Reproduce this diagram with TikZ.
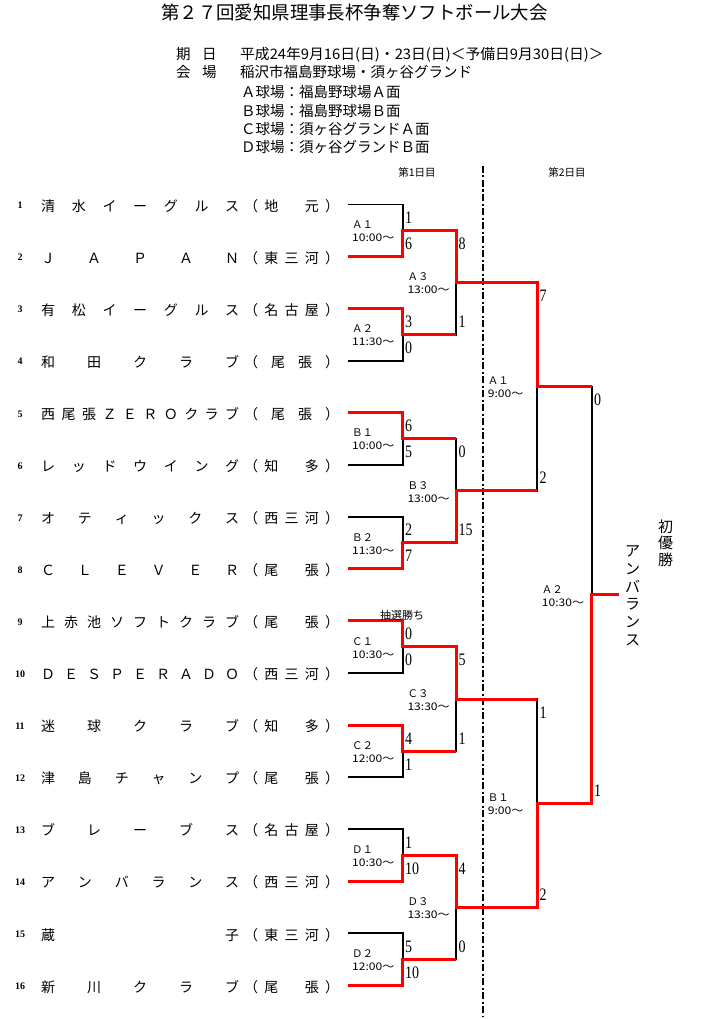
\documentclass[tikz,border=0pt]{standalone}
\usepackage{fontspec}
\usepackage{graphicx}
\newfontfamily\jp{Noto Sans CJK JP}
\newfontfamily\scorefont{Liberation Serif}
\tikzset{
  blk/.style={line width=1.8pt, black, line join=miter},
  rd/.style={line width=3pt, red, line join=miter},
  nm/.style={font=\jp\fontsize{14pt}{14pt}\selectfont, inner sep=0pt, anchor=base west},
  num/.style={font=\scorefont\bfseries\fontsize{10pt}{10pt}\selectfont, inner sep=0pt, anchor=base},
  sc/.style={font=\scorefont\fontsize{17.5pt}{17.5pt}\selectfont, inner sep=0pt, anchor=base west},
  lbl/.style={font=\jp\fontsize{10.5pt}{13pt}\selectfont, inner sep=0pt, anchor=west, align=left},
  hdr/.style={font=\jp\fontsize{14.5pt}{14.5pt}\selectfont, inner sep=0pt, anchor=base west},
  small/.style={font=\jp\fontsize{10.5pt}{10.5pt}\selectfont, inner sep=0pt, anchor=base},
  vert/.style={font=\jp\fontsize{15pt}{#1}\selectfont, inner sep=0pt, anchor=center, align=center},
  daysep/.style={line width=1.5pt, black, dash pattern=on 7pt off 2.5pt on 2pt off 2.5pt},
}
\newcommand\teamrow[4]{%
  \node[num] (k#1) at (20,#2+4.3) {#1};
  \node[nm] (n#1) at (41,#2+6.8) {\makebox[198pt][s]{#3}};
  \node[nm] (g#1) at (244,#2+6.8) {\makebox[95pt][s]{#4}};
  \coordinate (s#1) at (348.3,#2);
}
\newcommand\scorelbl[4]{\node[sc] (#1) at (#2,#3+0.5) {\scalebox{0.8}[1]{#4}};}
\newcommand\matchlbl[5]{\node[lbl] (#1) at (#2,#3) {#4\\\scalebox{1.15}[1]{#5}};}
\begin{document}
\begin{tikzpicture}[x=1pt,y=-1pt]
\fill[white] (0,0) rectangle (710,1019);
\useasboundingbox (0,0) rectangle (710,1019);

% header
\node[font=\jp\fontsize{18.4pt}{18.4pt}\selectfont, inner sep=0pt, anchor=base west] (title) at (161,19.5) {第２７回愛知県理事長杯争奪ソフトボール大会};
\node[hdr] (h1a) at (176,59.5) {期};
\node[hdr] (h1b) at (202,59.5) {日};
\node[hdr] (h1c) at (240,59.5) {\scalebox{1.02}[1]{平成24年9月16日(日)・23日(日)＜予備日9月30日(日)＞}};
\node[hdr] (h2a) at (176,77.5) {会};
\node[hdr] (h2b) at (202,77.5) {場};
\node[hdr] (h2c) at (240,77.5) {稲沢市福島野球場・須ヶ谷グランド};
\node[hdr] (fa) at (241,97.2) {Ａ球場：福島野球場Ａ面};
\node[hdr] (fb) at (241,116.2) {Ｂ球場：福島野球場Ｂ面};
\node[hdr] (fc) at (241,134.5) {Ｃ球場：須ヶ谷グランドＡ面};
\node[hdr] (fd) at (241,152.8) {Ｄ球場：須ヶ谷グランドＢ面};
\node[small] (day1) at (417,176.7) {第1日目};
\node[small] (day2) at (567,176.7) {第2日目};

% day separator
\coordinate (dtop) at (483,166);
\coordinate (dbot) at (483,1016);
\draw[daysep] (dtop) -- (dbot);

% teams
\teamrow{1}{204.5}{清 水 イ ー グ ル ス}{（ 地 　 元 ）}
\teamrow{2}{256.55}{Ｊ Ａ Ｐ Ａ Ｎ}{（ 東 三 河 ）}
\teamrow{3}{308.6}{有 松 イ ー グ ル ス}{（ 名 古 屋 ）}
\teamrow{4}{360.65}{和 田 ク ラ ブ}{（ 尾 張 ）}
\teamrow{5}{412.7}{西 尾 張 Ｚ Ｅ Ｒ Ｏ ク ラ ブ}{（ 尾 張 ）}
\teamrow{6}{464.75}{レ ッ ド ウ イ ン グ}{（ 知 　 多 ）}
\teamrow{7}{516.8}{オ テ ィ ッ ク ス}{（ 西 三 河 ）}
\teamrow{8}{568.85}{Ｃ Ｌ Ｅ Ｖ Ｅ Ｒ}{（ 尾 　 張 ）}
\teamrow{9}{620.9}{上 赤 池 ソ フ ト ク ラ ブ}{（ 尾 　 張 ）}
\teamrow{10}{672.95}{Ｄ Ｅ Ｓ Ｐ Ｅ Ｒ Ａ Ｄ Ｏ}{（ 西 三 河 ）}
\teamrow{11}{725.0}{迷 球 ク ラ ブ}{（ 知 　 多 ）}
\teamrow{12}{777.05}{津 島 チ ャ ン プ}{（ 尾 　 張 ）}
\teamrow{13}{829.1}{ブ レ ー ブ ス}{（ 名 古 屋 ）}
\teamrow{14}{881.15}{ア ン バ ラ ン ス}{（ 西 三 河 ）}
\teamrow{15}{933.2}{蔵 子}{（ 東 三 河 ）}
\teamrow{16}{985.25}{新 川 ク ラ ブ}{（ 尾 　 張 ）}

% junctions
\coordinate (A1) at (402.7,230.5);
\coordinate (A2) at (402.7,334.6);
\coordinate (B1) at (402.7,438.7);
\coordinate (B2) at (402.7,542.8);
\coordinate (C1) at (402.7,646.9);
\coordinate (C2) at (402.7,751.0);
\coordinate (D1) at (402.7,855.1);
\coordinate (D2) at (402.7,959.2);
\coordinate (A3) at (456,282.6);
\coordinate (B3) at (456,490.8);
\coordinate (C3) at (456,699.0);
\coordinate (D3) at (456,907.2);
\coordinate (RA) at (537,386.7);
\coordinate (RB) at (537,803.1);
\coordinate (F) at (591.7,594.9);
\coordinate (W) at (619,594.9);

% full bracket in black
\draw[blk] (s1) -| (A1);  \draw[blk] (s2) -| (A1);
\draw[blk] (s3) -| (A2);  \draw[blk] (s4) -| (A2);
\draw[blk] (s5) -| (B1);  \draw[blk] (s6) -| (B1);
\draw[blk] (s7) -| (B2);  \draw[blk] (s8) -| (B2);
\draw[blk] (s9) -| (C1);  \draw[blk] (s10) -| (C1);
\draw[blk] (s11) -| (C2); \draw[blk] (s12) -| (C2);
\draw[blk] (s13) -| (D1); \draw[blk] (s14) -| (D1);
\draw[blk] (s15) -| (D2); \draw[blk] (s16) -| (D2);
\draw[blk] (A1) -| (A3); \draw[blk] (A2) -| (A3);
\draw[blk] (B1) -| (B3); \draw[blk] (B2) -| (B3);
\draw[blk] (C1) -| (C3); \draw[blk] (C2) -| (C3);
\draw[blk] (D1) -| (D3); \draw[blk] (D2) -| (D3);
\draw[blk] (A3) -| (RA); \draw[blk] (B3) -| (RA);
\draw[blk] (C3) -| (RB); \draw[blk] (D3) -| (RB);
\draw[blk] (RA) -| (F); \draw[blk] (RB) -| (F);

% winners in red
\draw[rd] (s2) -| (A1) -| (A3) -| (RA) -- (RA -| F);
\draw[rd] (s3) -| (A2) -- (A2 -| A3);
\draw[rd] (s5) -| (B1) -- (B1 -| B3);
\draw[rd] (s8) -| (B2) -| (B3) -- (B3 -| RA);
\draw[rd] (s9) -| (C1) -| (C3) -- (C3 -| RB);
\draw[rd] (s11) -| (C2) -- (C2 -| C3);
\draw[rd] (s14) -| (D1) -| (D3) -| (RB) -| (F) -- (W);
\draw[rd] (s16) -| (D2) -- (D2 -| D3);

% scores round 1
\scorelbl{a1t}{405}{223.0}{1}   \scorelbl{a1b}{405}{249.05}{6}
\scorelbl{a2t}{405}{327.1}{3}   \scorelbl{a2b}{405}{353.15}{0}
\scorelbl{b1t}{405}{431.2}{6}   \scorelbl{b1b}{405}{457.25}{5}
\scorelbl{b2t}{405}{535.3}{2}   \scorelbl{b2b}{405}{561.35}{7}
\scorelbl{c1t}{405}{639.4}{0}   \scorelbl{c1b}{405}{665.45}{0}
\scorelbl{c2t}{405}{743.5}{4}   \scorelbl{c2b}{405}{769.55}{1}
\scorelbl{d1t}{405}{847.6}{1}   \scorelbl{d1b}{405}{873.65}{10}
\scorelbl{d2t}{405}{951.7}{5}   \scorelbl{d2b}{405}{977.75}{10}
% round 2
\scorelbl{a3t}{458.5}{249.0}{8}  \scorelbl{a3b}{458.5}{327.1}{1}
\scorelbl{b3t}{458.5}{457.2}{0}  \scorelbl{b3b}{458.5}{535.3}{15}
\scorelbl{c3t}{458.5}{665.4}{5}  \scorelbl{c3b}{458.5}{743.5}{1}
\scorelbl{d3t}{458.5}{873.6}{4}  \scorelbl{d3b}{458.5}{951.7}{0}
% round 3
\scorelbl{rat}{539.5}{301.1}{7}  \scorelbl{rab}{539.5}{483.3}{2}
\scorelbl{rbt}{539.5}{717.5}{1}  \scorelbl{rbb}{539.5}{899.7}{2}
% final
\scorelbl{ft}{594}{405.2}{0}     \scorelbl{fb}{594}{795.6}{1}

% match labels
\matchlbl{la1}{352}{231.5}{Ａ１}{10:00～}
\matchlbl{la2}{352}{335.6}{Ａ２}{11:30～}
\matchlbl{lb1}{352}{439.7}{Ｂ１}{10:00～}
\matchlbl{lb2}{352}{543.8}{Ｂ２}{11:30～}
\matchlbl{lc1}{352}{647.9}{Ｃ１}{10:30～}
\matchlbl{lc2}{352}{752.0}{Ｃ２}{12:00～}
\matchlbl{ld1}{352}{856.1}{Ｄ１}{10:30～}
\matchlbl{ld2}{352}{960.2}{Ｄ２}{12:00～}
\matchlbl{la3}{407.3}{283.6}{Ａ３}{13:00～}
\matchlbl{lb3}{407.3}{491.8}{Ｂ３}{13:00～}
\matchlbl{lc3}{407.3}{700.0}{Ｃ３}{13:30～}
\matchlbl{ld3}{407.3}{908.2}{Ｄ３}{13:30～}
\matchlbl{lra}{487.7}{387.7}{Ａ１}{9:00～}
\matchlbl{lrb}{487.7}{804.1}{Ｂ１}{9:00～}
\matchlbl{lf}{541.7}{595.9}{Ａ２}{10:30～}

\node[font=\jp\fontsize{11pt}{11pt}\selectfont, inner sep=0pt, anchor=base] (lot) at (402,619) {抽選勝ち};

% champion
\node[vert=16.7pt] (first) at (665.7,543.3) {初\\優\\勝};
\node[vert=17.7pt] (champ) at (632.7,595.9) {ア\\ン\\バ\\ラ\\ン\\ス};
\end{tikzpicture}
\end{document}
